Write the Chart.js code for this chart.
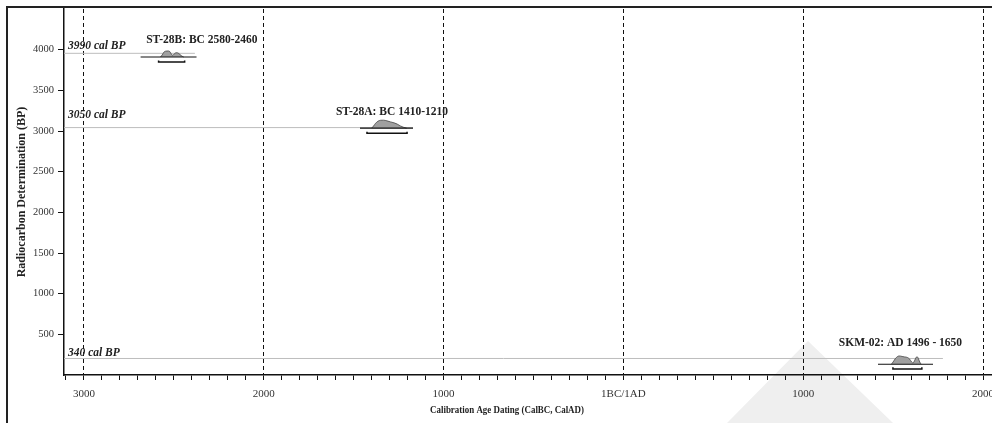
<!DOCTYPE html>
<html>
<head>
<meta charset="utf-8">
<script src="https://cdn.jsdelivr.net/npm/chart.js@4.4.1/dist/chart.umd.min.js"></script>
<style>
  body { margin: 0; background: #fff; }
  #wrap { position: relative; width: 992px; height: 423px; overflow: hidden; }
  #shade { position: absolute; inset: 0; background: #efefef; clip-path: polygon(808px 341px, 727px 423px, 893px 423px); }
  #frame { position: absolute; left: 6px; top: 6px; right: 0; bottom: 0; border-top: 2px solid #222; border-left: 2px solid #222; }
  canvas { position: absolute; left: 0; top: 0; }
</style>
</head>
<body>
<div id="wrap">
  <div id="shade"></div>
  <div id="frame"></div>
  <canvas id="calChart" width="992" height="423"></canvas>
</div>
<script>
// x = calendar year (BC negative, AD positive), y = radiocarbon years BP
const X_MIN = -3111, X_MAX = 2050;
const Y_MIN = 0, Y_MAX = 4500;

const sampleNames = ['ST-28B: BC 2580-2460', 'ST-28A: BC 1410-1210', 'SKM-02: AD 1496 - 1650'];
const sampleLabelX = [-2344, -1287, 1541];
const sampleLabelY = [4119, 3237, 387];

const calLabels = ['3990 cal BP', '3050 cal BP', '340 cal BP'];
const calLabelY = [4040, 3195, 275];

// grey measurement lines
const refLineY = [3955, 3042, 203];
const refLineEnd = [-2383, -1170, 1777];

// black baselines under the probability curves
const baseY = [3910, 3035, 132];
const baseFrom = [-2685, -1465, 1416];
const baseTo = [-2374, -1170, 1722];

// calibrated ranges
const rangeY = [3848, 2972, 74];
const rangeFrom = [-2585, -1426, 1499];
const rangeTo = [-2440, -1203, 1660];

// probability distributions
const st28bYears = [-2575, -2565, -2556, -2545, -2532, -2522, -2514, -2506, -2498, -2488, -2478, -2466, -2455, -2445];
const st28bProb  = [3910, 3935, 3968, 3982, 3984, 3975, 3945, 3930, 3948, 3962, 3960, 3940, 3920, 3910];
const st28aYears = [-1400, -1390, -1378, -1365, -1350, -1335, -1315, -1295, -1275, -1258, -1240, -1222, -1205];
const st28aProb  = [3035, 3060, 3095, 3120, 3132, 3133, 3125, 3112, 3100, 3085, 3062, 3045, 3035];
const skm02Years = [1490, 1500, 1512, 1525, 1535, 1550, 1565, 1580, 1592, 1603, 1611, 1620, 1628, 1633, 1640, 1648, 1656];
const skm02Prob  = [132, 160, 200, 228, 234, 228, 222, 215, 195, 160, 148, 180, 215, 225, 205, 160, 132];

const xMajor = [-3000, -2000, -1000, 0, 1000, 2000];
const xMajorLabels = ['3000', '2000', '1000', '1BC/1AD', '1000', '2000'];
const yTicks = [500, 1000, 1500, 2000, 2500, 3000, 3500, 4000];

const xMinor = [];
for (let v = -3100; v <= 2000; v += 100) xMinor.push(v);

const FONT = '"Liberation Serif", "Times New Roman", serif';

function seg(points, color, width, order, extra) {
  return Object.assign({
    data: points.map(p => ({ x: p[0], y: p[1] })),
    borderColor: color, borderWidth: width,
    pointRadius: 0, fill: false, order
  }, extra || {});
}

const datasets = [];
refLineY.forEach((y, i) => datasets.push(seg([[X_MIN, y], [refLineEnd[i], y]], '#bdbdbd', 1, 4)));

[[st28bYears, st28bProb], [st28aYears, st28aProb], [skm02Years, skm02Prob]].forEach(([xs, ys], i) => {
  datasets.push(seg(xs.map((x, k) => [x, ys[k]]), '#444', 0.8, 3, {
    backgroundColor: '#a0a0a0',
    fill: { value: baseY[i] },
    cubicInterpolationMode: 'monotone'
  }));
});

baseY.forEach((y, i) => datasets.push(seg([[baseFrom[i], y], [baseTo[i], y]], '#111', 1.2, 2)));

rangeY.forEach((y, i) => datasets.push(seg([
  [rangeFrom[i], y + 20], [rangeFrom[i], y], [rangeTo[i], y], [rangeTo[i], y + 20]
], '#111', 1.5, 1)));

const textPlugin = {
  id: 'texts',
  afterDraw(chart) {
    const { ctx, chartArea } = chart;
    const x = chart.scales.x, y = chart.scales.y;
    ctx.save();
    ctx.fillStyle = '#222';
    ctx.textBaseline = 'middle';
    ctx.textAlign = 'center';
    ctx.font = 'bold 11.5px ' + FONT;
    sampleNames.forEach((t, i) => ctx.fillText(t, x.getPixelForValue(sampleLabelX[i]), y.getPixelForValue(sampleLabelY[i])));

    ctx.textAlign = 'left';
    ctx.font = 'italic bold 11.5px ' + FONT;
    calLabels.forEach((t, i) => ctx.fillText(t, chartArea.left + 4, y.getPixelForValue(calLabelY[i])));

    // x title, slightly condensed like the source
    ctx.save();
    ctx.textAlign = 'center';
    ctx.font = 'bold 10.5px ' + FONT;
    ctx.translate(chartArea.left + 443, chartArea.bottom + 35);
    ctx.scale(0.85, 1);
    ctx.fillText('Calibration Age Dating (CalBC, CalAD)', 0, 0);
    ctx.restore();

    ctx.translate(22, (chartArea.top + chartArea.bottom) / 2);
    ctx.rotate(-Math.PI / 2);
    ctx.textAlign = 'center';
    ctx.font = 'bold 12px ' + FONT;
    ctx.fillText('Radiocarbon Determination (BP)', 0, 0);
    ctx.restore();
  }
};

new Chart(document.getElementById('calChart'), {
  type: 'line',
  data: { datasets },
  plugins: [textPlugin],
  options: {
    responsive: false,
    animation: false,
    layout: { padding: { top: 9, left: 0, right: 0, bottom: 0 } },
    plugins: { legend: { display: false }, tooltip: { enabled: false } },
    scales: {
      x: {
        type: 'linear', min: X_MIN, max: X_MAX,
        afterBuildTicks: s => { s.ticks = xMinor.map(v => ({ value: v })); },
        afterFit: s => { s.height = 48; s.paddingLeft = 0; s.paddingRight = 0; },
        ticks: {
          autoSkip: false, maxRotation: 0, padding: 8, color: '#333',
          font: { family: FONT, size: 11 },
          callback: v => { const k = xMajor.indexOf(v); return k < 0 ? '' : xMajorLabels[k]; }
        },
        grid: {
          color: c => (c.tick && xMajor.includes(c.tick.value)) ? '#111' : 'rgba(0,0,0,0)',
          lineWidth: 1, tickColor: '#111', tickLength: 5, tickWidth: 1
        },
        border: { color: '#111', width: 1.5, dash: [4, 3] }
      },
      y: {
        type: 'linear', min: Y_MIN, max: Y_MAX,
        afterBuildTicks: s => { s.ticks = yTicks.map(v => ({ value: v })); },
        afterFit: s => { s.width = 64; s.paddingTop = 0; s.paddingBottom = 0; },
        ticks: { padding: 4, color: '#333', font: { family: FONT, size: 10.5 }, callback: v => String(v) },
        grid: { drawOnChartArea: false, tickColor: '#111', tickLength: 6, tickWidth: 1 },
        border: { color: '#111', width: 1.5 }
      }
    }
  }
});
</script>
</body>
</html>
